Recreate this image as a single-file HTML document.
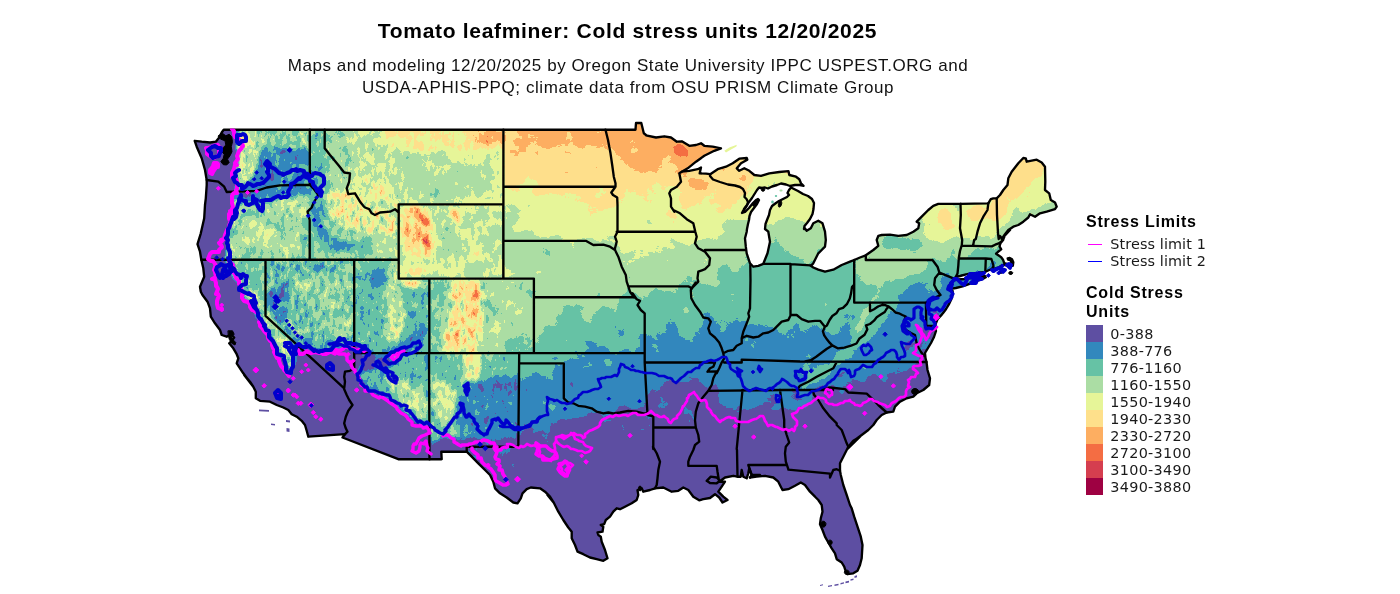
<!DOCTYPE html>
<html lang="en"><head><meta charset="utf-8"><title>Tomato leafminer: Cold stress units 12/20/2025</title>
<style>
html,body{margin:0;padding:0;background:#fff}
body{width:1400px;height:594px;position:relative;overflow:hidden;font-family:"Liberation Sans",sans-serif;color:#000}
#map{position:absolute;left:0;top:0;width:1400px;height:594px}
.t{position:absolute;white-space:nowrap;line-height:1}
#title{left:0;width:1255px;text-align:center;top:20px;font-size:21px;font-weight:bold;letter-spacing:.69px}
.sub{left:0;width:1256px;text-align:center;font-size:17px;letter-spacing:.57px;color:#111}
.lt{font-size:16px;font-weight:bold;letter-spacing:.79px;left:1086px}
.ll{font-family:"DejaVu Sans","Liberation Sans",sans-serif;font-size:14.4px;letter-spacing:.3px;left:1110.3px;color:#1a1a1a}
.sw{position:absolute;left:1086px;width:17px;height:17px}
.key{position:absolute;left:1088px;width:13.5px;height:1px}
</style></head><body>

<svg id="map" width="1400" height="594" viewBox="0 0 1400 594">
<defs>
<clipPath id="us"><path d="M223.7,129.7 635.5,129.7 636.0,123.0 641.3,123.0 643.8,133.3 646.0,135.0 646.0,135.3 656.0,137.5 664.3,136.3 671.0,137.5 676.8,141.7 681.8,141.3 689.3,145.8 696.0,145.0 701.0,143.3 704.3,145.8 712.7,146.7 721.0,148.3 714.3,150.8 704.3,155.8 696.0,161.7 687.7,168.3 681.8,171.7 689.3,170.8 697.7,169.2 701.0,167.5 699.7,173.3 706.0,173.7 710.2,174.2 717.7,169.2 726.0,166.7 732.7,163.3 739.3,158.7 746.8,158.0 747.3,159.7 741.0,163.3 736.8,168.3 739.3,170.8 744.3,168.3 749.3,170.8 754.3,175.0 761.0,175.8 769.3,173.3 779.3,172.0 788.5,171.2 789.3,175.0 796.0,176.7 799.3,179.2 801.0,183.3 803.5,185.8 800.0,185.0 795.0,185.0 790.0,186.0 786.0,184.5 781.0,183.5 777.0,185.0 772.0,186.5 768.0,188.5 765.0,187.5 762.0,188.0 759.0,187.5 757.0,190.0 754.5,194.0 752.0,198.0 749.0,202.0 746.0,207.0 743.0,211.0 742.0,213.0 745.0,212.0 749.0,208.0 753.0,203.0 756.0,200.0 758.0,199.0 759.0,200.0 757.0,204.0 754.0,208.0 751.0,212.0 749.5,216.0 749.0,220.0 748.0,224.0 747.0,229.0 746.7,231.7 745.0,238.3 745.8,246.7 746.7,253.3 750.0,263.3 753.3,266.7 758.3,265.8 763.3,263.8 767.5,253.3 770.0,241.7 768.3,231.7 765.0,229.0 765.5,224.0 767.0,220.0 769.0,215.0 770.0,210.0 772.0,206.0 776.0,203.0 779.0,201.0 783.0,199.0 787.0,197.0 789.0,195.0 787.5,193.0 789.0,190.0 791.0,187.5 794.0,189.0 798.0,191.0 803.0,194.0 808.0,196.0 812.0,199.0 814.0,203.0 813.5,209.0 812.5,214.0 810.0,219.0 807.0,223.0 804.5,226.0 804.0,229.0 804.2,227.5 806.7,230.8 810.8,228.3 813.3,223.3 818.3,220.8 822.5,223.3 825.0,231.7 825.8,240.0 825.0,246.7 821.7,250.0 818.3,253.3 815.8,258.3 813.3,263.3 810.8,265.8 813.3,267.5 818.3,269.7 825.0,271.7 833.3,269.7 841.7,265.0 850.0,261.7 854.2,260.0 860.0,257.5 865.8,255.3 873.3,250.0 878.3,245.8 876.7,240.0 878.3,235.8 881.7,235.0 890.0,234.7 898.3,235.8 906.7,235.0 913.3,231.7 918.3,228.3 919.2,223.3 916.7,221.7 921.7,216.7 928.3,210.0 933.3,205.8 938.3,203.8 960.5,203.8 988.3,203.3 990.8,199.2 993.3,198.3 996.7,198.3 1000.0,195.0 1003.3,190.0 1007.5,185.0 1008.3,178.3 1011.7,171.7 1018.3,163.3 1023.3,158.0 1025.8,158.3 1026.7,161.7 1036.7,159.7 1041.7,162.5 1045.0,166.7 1045.3,181.7 1045.0,190.0 1049.2,193.3 1050.8,200.0 1055.0,202.5 1056.7,206.7 1055.0,209.2 1046.7,211.7 1040.0,213.3 1035.0,216.7 1030.0,214.2 1028.3,217.5 1023.3,221.7 1018.3,225.0 1013.3,226.7 1008.3,230.0 1005.0,234.2 1001.7,239.0 1010.0,230.0 1005.0,235.0 1003.0,240.0 1000.4,243.4 999.5,246.4 1001.2,249.4 997.8,252.0 996.1,253.7 998.7,255.5 1001.2,257.2 1003.0,259.7 1004.2,263.2 1007.2,264.0 1010.7,264.9 1012.8,265.8 1013.3,262.3 1012.0,259.3 1009.8,258.0 1007.7,258.5 1008.1,259.7 1010.3,260.2 1011.5,262.3 1010.7,264.0 1007.0,265.5 1003.8,264.9 1001.2,265.8 998.7,267.5 995.2,268.3 991.8,269.2 989.2,270.0 985.0,271.8 978.0,273.0 971.2,273.5 966.0,274.3 960.0,276.0 955.8,277.0 953.0,280.0 954.0,278.6 952.5,282.0 951.0,285.0 952.0,288.0 953.0,293.6 951.2,299.6 948.7,304.7 946.1,309.0 943.5,312.5 941.8,314.6 937.5,319.3 935.8,323.6 935.0,327.0 936.0,331.0 934.0,337.0 931.0,343.0 928.0,348.0 925.0,353.0 925.5,358.0 926.5,362.0 927.5,370.0 930.0,378.3 929.2,385.0 923.3,390.0 916.7,393.3 913.3,396.7 906.7,398.3 900.0,401.7 895.0,406.7 893.3,411.7 886.7,412.5 881.7,415.0 876.7,420.0 873.3,425.0 868.3,430.0 861.7,435.0 855.0,440.0 850.0,445.0 847.5,449.0 860.0,436.7 853.3,440.8 848.3,446.7 846.7,450.0 843.3,456.7 840.0,463.3 840.0,470.8 840.8,475.0 843.3,485.0 846.7,495.0 850.0,505.0 851.7,508.3 854.2,516.7 857.5,526.7 860.8,536.7 862.5,545.0 861.7,558.3 860.0,565.0 857.5,570.8 853.3,573.3 847.5,574.2 845.8,571.7 844.2,566.7 841.7,562.5 836.7,559.2 835.0,553.3 831.7,548.3 828.3,542.5 825.0,536.7 822.5,530.0 820.0,524.2 820.8,518.3 822.5,511.7 821.7,505.0 818.3,500.0 813.3,495.0 815.0,496.7 810.0,491.7 805.0,485.0 800.8,482.5 795.0,485.8 788.3,489.2 782.5,490.0 780.8,486.7 778.3,481.7 773.3,477.5 765.0,475.8 756.7,476.7 750.0,477.5 760.0,475.0 751.7,475.0 749.2,468.3 748.3,473.3 746.7,478.3 743.3,476.7 741.7,470.0 740.8,476.7 737.5,476.7 733.3,475.8 725.0,477.5 719.2,481.7 725.0,481.7 721.7,486.7 718.3,491.7 723.3,496.7 727.5,500.0 722.5,502.5 719.2,497.5 715.0,494.2 710.0,498.0 703.3,499.2 699.2,500.3 693.3,496.7 688.3,490.0 683.3,487.5 678.3,490.8 671.7,491.7 663.3,487.5 655.0,488.3 650.0,490.0 643.3,491.7 641.7,488.3 637.5,490.0 638.3,495.0 636.7,500.0 631.7,503.3 625.0,506.7 620.0,509.2 616.7,508.3 613.3,511.7 610.0,516.7 605.8,520.0 604.2,524.2 600.8,525.0 603.3,526.7 602.5,531.7 597.5,532.5 598.3,535.0 600.8,536.7 601.7,541.7 605.0,550.0 607.5,558.3 603.3,560.8 596.7,559.2 590.0,557.5 583.3,554.2 577.5,551.7 575.0,545.0 571.7,538.3 571.7,531.7 568.3,527.5 563.3,520.0 558.3,511.7 553.3,501.7 547.5,495.0 554.2,503.3 550.0,496.7 545.0,491.7 540.0,488.3 530.8,487.5 526.7,489.2 522.5,493.3 520.8,498.3 517.5,503.3 513.3,502.5 506.7,497.5 500.0,493.3 495.0,488.3 493.3,481.7 490.0,475.0 485.0,470.0 478.3,463.3 471.7,456.7 466.7,451.7 441.3,451.7 441.7,459.2 430.0,459.2 398.3,459.2 342.5,437.5 345.0,434.2 308.3,436.7 306.7,430.8 305.0,425.0 301.7,420.8 296.7,416.7 291.7,414.2 288.3,410.0 283.3,407.5 276.7,405.0 270.0,401.7 260.0,400.8 255.8,398.3 255.8,391.7 253.3,386.7 250.0,381.7 244.2,375.0 253.3,386.7 248.3,380.0 243.3,373.3 240.0,368.3 236.7,363.3 238.3,358.3 236.7,354.2 233.3,348.3 229.2,343.3 231.7,340.8 234.2,337.5 230.8,334.2 226.7,336.7 221.7,335.0 220.0,330.0 215.0,323.3 210.8,316.7 210.0,308.3 207.5,301.7 202.5,295.0 200.8,291.7 200.0,286.7 204.2,276.7 203.3,268.3 201.3,259.7 200.0,251.7 197.5,244.2 200.8,233.3 204.2,218.3 205.0,205.0 205.8,198.3 206.7,185.0 206.7,180.0 205.0,170.0 201.7,158.3 196.7,146.7 194.7,140.8 201.7,141.7 210.0,142.5 215.8,141.7 219.2,137.5 221.7,132.5 223.7,129.7Z M953.2,280.3 958.3,279.5 964.3,279.0 971.2,278.2 978.0,277.0 984.9,276.0 985.8,277.3 983.2,278.6 976.4,281.2 969.5,283.8 962.6,286.3 955.8,288.0 950.6,288.9 949.7,284.6Z"/></clipPath>
<filter id="f" x="0" y="0" width="1400" height="594" filterUnits="userSpaceOnUse" color-interpolation-filters="sRGB">
<feColorMatrix in="SourceGraphic" type="matrix" values="1 0 0 0 0 1 0 0 0 0 1 0 0 0 0 0 0 0 0 1" result="v"/>
<feColorMatrix in="SourceGraphic" type="matrix" values="0 1 0 0 0 0 1 0 0 0 0 1 0 0 0 0 0 0 0 1" result="a1"/>
<feColorMatrix in="SourceGraphic" type="matrix" values="0 0 1 0 0 0 0 1 0 0 0 0 1 0 0 0 0 0 0 1" result="a2"/>
<feTurbulence type="fractalNoise" baseFrequency="0.05" numOctaves="5" seed="7" result="n1"/>
<feColorMatrix in="n1" type="matrix" values="1 0 0 0 0 1 0 0 0 0 1 0 0 0 0 0 0 0 0 1" result="g1"/>
<feTurbulence type="fractalNoise" baseFrequency="0.2 0.11" numOctaves="3" seed="5" result="n2"/>
<feColorMatrix in="n2" type="matrix" values="1 0 0 0 0 1 0 0 0 0 1 0 0 0 0 0 0 0 0 1" result="g2"/>
<feComposite in="a1" in2="g1" operator="arithmetic" k1="1" k2="0" k3="0" k4="0" result="t1"/>
<feComposite in="a2" in2="g2" operator="arithmetic" k1="1" k2="0" k3="0" k4="0" result="t2"/>
<feComposite in="v" in2="a1" operator="arithmetic" k1="0" k2="1" k3="-0.25" k4="0" result="v1"/>
<feComposite in="v1" in2="a2" operator="arithmetic" k1="0" k2="1" k3="-0.25" k4="0" result="v2"/>
<feComposite in="v2" in2="t1" operator="arithmetic" k1="0" k2="1" k3="0.5" k4="0" result="v3"/>
<feComposite in="v3" in2="t2" operator="arithmetic" k1="0" k2="1" k3="0.5" k4="0" result="v4"/>
<feComponentTransfer in="v4"><feFuncR type="discrete" tableValues="0.3686 0.3686 0.3686 0.3686 0.3686 0.1961 0.4000 0.6706 0.9020 0.9961 0.9922 0.9569 0.8353 0.6196 0.6196 0.6196"/><feFuncG type="discrete" tableValues="0.3098 0.3098 0.3098 0.3098 0.3098 0.5333 0.7608 0.8667 0.9608 0.8784 0.6824 0.4275 0.2431 0.0039 0.0039 0.0039"/><feFuncB type="discrete" tableValues="0.6353 0.6353 0.6353 0.6353 0.6353 0.7412 0.6471 0.6431 0.5961 0.5451 0.3804 0.2627 0.3098 0.2588 0.2588 0.2588"/></feComponentTransfer>
</filter>
<filter id="be" x="0" y="0" width="1400" height="594" filterUnits="userSpaceOnUse" color-interpolation-filters="sRGB"><feGaussianBlur stdDeviation="10"/></filter>
<filter id="bw" x="0" y="0" width="1400" height="594" filterUnits="userSpaceOnUse" color-interpolation-filters="sRGB"><feGaussianBlur stdDeviation="2"/></filter>
<filter id="bm" x="0" y="0" width="1400" height="594" filterUnits="userSpaceOnUse" color-interpolation-filters="sRGB"><feGaussianBlur stdDeviation="3.2"/></filter>
</defs>
<g clip-path="url(#us)"><g filter="url(#f)">
<g filter="url(#be)"><path fill="#733800" d="M0.0,0.0 1400.0,0.0 1400.0,600.0 0.0,600.0Z"/>
<path fill="#a73800" d="M440.0,100.0 1100.0,100.0 1100.0,620.0 440.0,620.0Z"/>
<path fill="#973800" d="M440.0,140.0 495.0,140.0 505.0,142.0 520.0,145.0 537.0,144.0 550.0,145.0 562.0,154.0 572.0,151.0 585.0,145.0 595.0,141.0 605.0,144.0 612.0,147.0 620.0,157.0 627.0,165.0 635.0,170.0 645.0,169.0 652.0,165.0 660.0,166.0 670.0,170.0 680.0,169.0 686.0,173.0 700.0,172.0 730.0,160.0 760.0,150.0 800.0,120.0 1075.0,100.0 1100.0,100.0 1100.0,620.0 440.0,620.0Z"/>
<path fill="#873800" d="M440.0,176.0 495.0,176.0 505.0,182.0 515.0,186.0 530.0,190.0 550.0,192.0 565.0,195.0 582.0,202.0 600.0,207.0 612.0,206.0 620.0,197.0 637.0,199.0 650.0,195.0 662.0,192.0 670.0,195.0 675.0,202.0 690.0,205.0 705.0,207.0 720.0,206.0 730.0,202.0 740.0,197.0 746.0,195.0 755.0,190.0 757.0,180.0 760.0,170.0 780.0,140.0 1075.0,110.0 1100.0,110.0 1100.0,620.0 440.0,620.0Z"/>
<path fill="#783800" d="M440.0,215.0 495.0,215.0 500.0,217.0 530.0,225.0 545.0,232.0 575.0,236.0 590.0,240.0 615.0,243.0 617.0,257.0 630.0,256.0 645.0,255.0 660.0,252.0 675.0,245.0 690.0,244.0 700.0,240.0 712.0,237.0 725.0,233.0 732.0,220.0 740.0,215.0 746.0,217.0 760.0,218.0 770.0,222.0 777.0,225.0 787.0,223.0 800.0,221.0 808.0,224.0 815.0,226.0 830.0,230.0 860.0,235.0 900.0,200.0 1075.0,120.0 1100.0,120.0 1100.0,620.0 440.0,620.0Z"/>
<path fill="#683800" d="M440.0,356.0 495.0,356.0 500.0,356.0 517.0,354.0 534.0,345.0 542.0,335.0 550.0,317.0 557.0,310.0 572.0,309.0 585.0,304.0 600.0,300.0 615.0,299.0 630.0,297.0 640.0,290.0 655.0,287.0 675.0,287.0 690.0,286.0 700.0,284.0 712.0,277.0 725.0,275.0 737.0,272.0 747.0,267.0 752.0,258.0 760.0,250.0 765.0,235.0 775.0,232.0 782.0,245.0 787.0,255.0 795.0,257.0 805.0,260.0 812.0,257.0 820.0,250.0 825.0,242.0 835.0,240.0 856.0,258.0 900.0,262.0 935.0,262.0 950.0,268.0 965.0,262.0 985.0,255.0 1005.0,248.0 1020.0,240.0 1075.0,220.0 1100.0,220.0 1100.0,620.0 440.0,620.0Z"/>
<path fill="#583800" d="M440.0,380.0 495.0,380.0 500.0,380.0 510.0,385.0 520.0,377.0 532.0,370.0 550.0,365.0 565.0,360.0 575.0,356.0 585.0,355.0 600.0,350.0 617.0,344.0 630.0,340.0 642.0,340.0 650.0,335.0 662.0,332.0 675.0,330.0 685.0,335.0 697.0,332.0 705.0,321.0 717.0,319.0 730.0,319.0 740.0,322.0 750.0,321.0 760.0,325.0 770.0,330.0 780.0,332.0 790.0,335.0 800.0,332.0 810.0,328.0 820.0,330.0 830.0,325.0 850.0,320.0 880.0,305.0 905.0,295.0 925.0,285.0 945.0,275.0 965.0,268.0 990.0,262.0 1020.0,255.0 1075.0,240.0 1100.0,240.0 1100.0,620.0 440.0,620.0Z"/>
<path fill="#483800" d="M440.0,440.0 460.0,440.0 480.0,432.0 495.0,427.0 500.0,427.0 525.0,430.0 550.0,422.0 575.0,415.0 600.0,411.0 625.0,412.0 645.0,410.0 650.0,400.0 662.0,395.0 675.0,387.0 690.0,380.0 705.0,377.0 712.0,385.0 715.0,400.0 725.0,407.0 737.0,410.0 750.0,407.0 762.0,405.0 772.0,412.0 782.0,407.0 790.0,402.0 800.0,398.0 810.0,395.0 825.0,387.0 842.0,387.0 855.0,382.0 867.0,380.0 880.0,375.0 892.0,372.0 905.0,370.0 915.0,365.0 920.0,355.0 923.0,345.0 927.0,337.0 932.0,330.0 940.0,325.0 1075.0,300.0 1100.0,300.0 1100.0,620.0 440.0,620.0Z"/>
<path fill="#283800" d="M440.0,470.0 460.0,470.0 520.0,465.0 600.0,450.0 700.0,440.0 800.0,435.0 900.0,410.0 1075.0,380.0 1100.0,380.0 1100.0,620.0 440.0,620.0Z"/></g>
<g filter="url(#bm)"><ellipse fill="#a63800" cx="701" cy="184" rx="12" ry="5"/>
<ellipse fill="#a63800" cx="741" cy="176" rx="7" ry="5"/>
<ellipse fill="#b63800" cx="680" cy="151" rx="5" ry="8" transform="rotate(20 680 151)"/>
<path fill="#873800" d="M922.0,205.0 945.0,204.0 959.0,206.0 959.0,235.0 950.0,242.0 935.0,242.0 925.0,232.0 920.0,218.0Z"/>
<ellipse fill="#963800" cx="944.5" cy="222" rx="9" ry="12"/>
<ellipse fill="#683800" cx="903" cy="244" rx="24" ry="6"/>
<ellipse fill="#683800" cx="952" cy="262" rx="4" ry="14"/>
<path fill="#783800" d="M857.0,260.0 930.0,260.0 932.0,268.0 915.0,274.0 895.0,280.0 880.0,286.0 865.0,284.0 857.0,276.0Z"/>
<ellipse fill="#583800" cx="918" cy="296" rx="14" ry="6"/>
<path fill="#873800" d="M960.0,204.0 998.0,204.0 998.0,236.0 960.0,236.0Z"/>
<ellipse fill="#943800" cx="976" cy="213" rx="10" ry="9"/>
<ellipse fill="#993800" cx="993" cy="214" rx="3" ry="12"/>
<path fill="#873800" d="M997.0,240.0 1004.0,226.0 1014.0,216.0 1024.0,212.0 1036.0,208.0 1048.0,203.0 1058.0,199.0 1058.0,150.0 990.0,150.0 990.0,240.0Z"/>
<path fill="#963800" d="M996.7,224.7 1004.2,214.8 1016.7,199.8 1029.0,187.4 1039.0,175.0 1044.0,160.0 1044.0,150.0 990.0,150.0 990.0,224.0Z"/>
<path fill="#683800" d="M1004.0,240.0 1016.7,227.0 1029.0,222.0 1041.6,218.0 1056.0,211.0 1070.0,205.0 1070.0,245.0 1000.0,250.0Z"/>
<path fill="#693800" d="M855.0,322.0 880.0,305.0 893.0,300.0 896.0,308.0 888.0,318.0 878.0,328.0 870.0,338.0 862.0,346.0 852.0,355.0 842.0,364.0 830.0,373.0 818.0,382.0 806.0,390.0 798.0,393.0 796.0,388.0 806.0,380.0 818.0,370.0 830.0,360.0 842.0,350.0 850.0,342.0 855.0,332.0Z"/>
<path fill="#583800" d="M780.0,362.0 800.0,362.0 815.0,358.0 828.0,350.0 836.0,342.0 840.0,336.0 830.0,332.0 815.0,336.0 800.0,340.0 780.0,345.0Z"/>
<path fill="#7e3800" d="M879.0,288.0 883.0,288.0 870.0,312.0 856.0,334.0 851.0,336.0 862.0,314.0Z"/></g>
<g filter="url(#bw)"><path fill="#732954" d="M150.0,100.0 503.4,100.0 503.4,278.6 533.9,278.6 533.9,353.1 519.2,353.1 519.2,446.7 440.0,446.7 440.0,600.0 150.0,600.0Z"/>
<path fill="#7e2954" d="M325.0,128.0 505.0,128.0 505.0,206.0 400.0,206.0 385.0,212.0 370.0,212.0 355.0,195.0 345.0,188.0 348.0,172.0 330.0,155.0Z"/>
<path fill="#8f3340" d="M382.0,128.0 505.0,128.0 505.0,152.0 470.0,155.0 440.0,150.0 410.0,152.0 390.0,148.0Z"/>
<path fill="#a33340" d="M466.0,128.0 505.0,128.0 505.0,143.0 485.0,145.0 470.0,140.0Z"/>
<path fill="#83381f" d="M445.0,150.0 505.0,150.0 505.0,206.0 470.0,206.0 452.0,200.0 445.0,180.0Z"/>
<path fill="#784026" d="M395.0,156.0 422.0,152.0 440.0,156.0 465.0,167.0 483.0,177.0 485.0,195.0 452.0,199.0 415.0,197.0 402.0,190.0 395.0,177.0Z"/>
<path fill="#712954" d="M325.0,132.0 345.0,132.0 355.0,165.0 345.0,170.0 335.0,158.0Z"/>
<path fill="#872999" d="M352.0,178.0 380.0,180.0 398.0,198.0 398.0,210.0 370.0,210.0 358.0,198.0Z"/>
<path fill="#7e3833" d="M399.0,205.0 503.0,205.0 503.0,278.0 399.0,278.0Z"/>
<path fill="#992980" d="M401.0,207.0 424.0,205.0 431.0,215.0 435.0,240.0 432.0,256.0 420.0,260.0 407.0,254.0 402.0,240.0Z"/>
<ellipse fill="#c42980" cx="421" cy="217" rx="2.2" ry="11" transform="rotate(-38 421 217)"/>
<ellipse fill="#c42980" cx="425" cy="241" rx="2.2" ry="11" transform="rotate(-40 425 241)"/>
<ellipse fill="#b92980" cx="456" cy="216" rx="2.2" ry="7" transform="rotate(-30 456 216)"/>
<ellipse fill="#762954" cx="443" cy="228" rx="7" ry="14"/>
<ellipse fill="#7b3333" cx="480" cy="225" rx="16" ry="14"/>
<ellipse fill="#932954" cx="476" cy="256" rx="5" ry="5"/>
<ellipse fill="#962999" cx="415" cy="272" rx="12" ry="4"/>
<path fill="#682954" d="M310.0,128.0 325.0,128.0 325.0,148.0 335.0,160.0 340.0,172.0 336.0,188.0 325.0,192.0 310.0,190.0Z"/>
<path fill="#792954" d="M325.0,150.0 345.0,170.0 348.0,190.0 335.0,192.0 328.0,175.0Z"/>
<path fill="#8729bf" d="M325.0,192.0 345.0,190.0 355.0,194.0 362.0,205.0 385.0,212.0 398.0,212.0 398.0,235.0 380.0,235.0 360.0,232.0 342.0,228.0 330.0,215.0Z"/>
<path fill="#642954" d="M310.0,190.0 322.0,190.0 328.0,215.0 322.0,225.0 310.0,225.0Z"/>
<path fill="#662940" d="M310.0,205.0 318.0,205.0 322.0,225.0 332.0,238.0 350.0,243.0 368.0,240.0 385.0,237.0 398.0,238.0 398.0,248.0 380.0,252.0 355.0,254.0 335.0,252.0 318.0,242.0 310.0,225.0Z"/>
<path fill="#582940" d="M310.0,206.0 317.0,206.0 321.0,222.0 330.0,235.0 345.0,241.0 362.0,244.0 345.0,250.0 330.0,248.0 318.0,240.0 310.0,225.0Z"/>
<ellipse fill="#562954" cx="314" cy="184" rx="5" ry="5"/>
<path fill="#7c2954" d="M370.0,240.0 398.0,236.0 398.0,260.0 375.0,260.0Z"/>
<path fill="#802999" d="M237.0,128.0 256.0,128.0 258.0,150.0 254.0,175.0 250.0,185.0 240.0,185.0 238.0,170.0 239.0,150.0Z"/>
<path fill="#742980" d="M233.0,196.0 246.0,198.0 247.0,230.0 243.0,262.0 226.0,262.0 230.0,240.0 232.0,215.0Z"/>
<path fill="#712980" d="M256.0,128.0 310.0,128.0 310.0,148.0 290.0,146.0 270.0,144.0 256.0,148.0Z"/>
<path fill="#58294c" d="M258.0,152.0 270.0,146.0 290.0,148.0 310.0,150.0 310.0,180.0 300.0,185.0 285.0,187.0 270.0,190.0 256.0,193.0 246.0,190.0 244.0,184.0 252.0,176.0 257.0,165.0Z"/>
<path fill="#59294c" d="M238.0,187.0 300.0,184.0 310.0,186.0 312.0,196.0 285.0,199.0 262.0,204.0 240.0,205.0 236.0,196.0Z"/>
<path fill="#7c2980" d="M278.0,198.0 308.0,196.0 310.0,218.0 295.0,222.0 280.0,214.0Z"/>
<ellipse fill="#7e4c4c" cx="258" cy="235" rx="17" ry="14"/>
<ellipse fill="#784c4c" cx="290" cy="240" rx="14" ry="12"/>
<path fill="#662954" d="M302.0,218.0 311.0,215.0 311.0,248.0 302.0,248.0Z"/>
<path fill="#281a1a" d="M180.0,120.0 234.0,120.0 236.0,150.0 235.0,170.0 234.0,190.0 231.0,210.0 229.0,230.0 225.0,250.0 224.0,262.0 180.0,262.0Z"/>
<ellipse fill="#5c2954" cx="211" cy="147" rx="4" ry="4"/>
<path fill="#692954" d="M224.0,258.0 266.0,258.0 266.0,316.0 250.0,300.0 240.0,280.0 230.0,270.0Z"/>
<path fill="#682999" d="M266.0,258.0 355.0,258.0 355.0,352.0 330.0,355.0 300.0,352.0 292.0,345.0 266.0,316.0Z"/>
<ellipse fill="#582980" cx="279" cy="303" rx="10" ry="20"/>
<path fill="#702980" d="M295.0,275.0 354.0,270.0 354.0,335.0 335.0,340.0 315.0,330.0 300.0,310.0Z"/>
<path fill="#5c294c" d="M292.0,338.0 310.0,338.0 335.0,342.0 355.0,338.0 355.0,352.0 300.0,352.0Z"/>
<path fill="#742999" d="M240.0,275.0 252.0,280.0 262.0,300.0 272.0,318.0 284.0,335.0 293.0,350.0 296.0,368.0 288.0,366.0 280.0,350.0 268.0,335.0 258.0,318.0 248.0,300.0 240.0,285.0Z"/>
<ellipse fill="#8f29b2" cx="286" cy="351" rx="2.5" ry="13" transform="rotate(-25 286 351)"/>
<path fill="#281a1a" d="M180.0,262.0 224.0,262.0 228.0,272.0 236.0,283.0 244.0,298.0 254.0,315.0 264.0,330.0 274.0,345.0 282.0,360.0 290.0,372.0 298.0,362.0 296.0,352.0 305.0,352.0 320.0,352.0 335.0,352.0 345.0,348.0 356.0,345.0 356.0,375.0 365.0,384.0 374.0,395.0 387.0,399.0 396.0,406.0 404.0,414.0 415.0,423.0 426.0,425.0 431.0,436.0 431.0,470.0 180.0,470.0Z"/>
<path fill="#662954" d="M355.0,260.0 399.0,260.0 399.0,279.0 429.0,279.0 429.0,353.0 355.0,353.0Z"/>
<ellipse fill="#542940" cx="378" cy="278" rx="8" ry="10"/>
<ellipse fill="#a72999" cx="411" cy="283.5" rx="11" ry="3"/>
<path fill="#7b2999" d="M390.0,262.0 399.0,262.0 402.0,290.0 406.0,320.0 400.0,340.0 386.0,342.0 386.0,320.0 388.0,290.0Z"/>
<path fill="#54294c" d="M426.0,320.0 429.0,330.0 420.0,342.0 405.0,352.0 385.0,356.0 385.0,350.0 400.0,345.0 415.0,332.0Z"/>
<path fill="#452933" d="M356.0,343.0 368.0,345.0 372.0,353.0 356.0,353.0Z"/>
<path fill="#6e2954" d="M429.0,279.0 455.0,279.0 450.0,352.0 429.0,352.0Z"/>
<path fill="#9129b2" d="M455.0,279.0 478.0,279.0 484.0,300.0 482.0,330.0 476.0,352.0 445.0,352.0 444.0,335.0 452.0,310.0 450.0,295.0Z"/>
<ellipse fill="#a92999" cx="473" cy="308" rx="2.5" ry="26" transform="rotate(5 473 308)"/>
<ellipse fill="#9f2999" cx="452" cy="338" rx="8" ry="7"/>
<path fill="#794033" d="M487.0,279.0 534.0,279.0 534.0,353.0 486.0,353.0 490.0,320.0Z"/>
<path fill="#6b4033" d="M505.0,338.0 534.0,335.0 534.0,353.0 505.0,353.0Z"/>
<path fill="#642954" d="M356.0,353.0 429.0,353.0 429.0,425.0 415.0,423.0 404.0,414.0 396.0,406.0 387.0,399.0 374.0,395.0 365.0,384.0 356.0,375.0Z"/>
<path fill="#7c2980" d="M385.0,378.0 400.0,376.0 415.0,385.0 428.0,395.0 428.0,418.0 418.0,418.0 405.0,405.0 392.0,392.0Z"/>
<path fill="#49294c" d="M356.0,353.0 372.0,353.0 385.0,358.0 398.0,362.0 392.0,368.0 378.0,368.0 365.0,370.0 356.0,368.0Z"/>
<path fill="#682954" d="M429.0,353.0 519.0,353.0 519.0,447.0 429.0,460.0Z"/>
<path fill="#802980" d="M433.0,382.0 448.0,380.0 456.0,392.0 455.0,412.0 448.0,422.0 438.0,420.0 433.0,405.0Z"/>
<path fill="#862980" d="M462.0,353.0 482.0,353.0 482.0,372.0 475.0,382.0 465.0,378.0Z"/>
<path fill="#584040" d="M459.0,394.0 478.0,380.0 519.0,372.0 519.0,440.0 470.0,440.0 459.0,432.0 457.0,415.0Z"/>
<path fill="#464040" d="M429.0,440.0 470.0,438.0 500.0,440.0 520.0,436.0 520.0,470.0 429.0,470.0Z"/></g>
</g></g>
<path fill="#E6F598" d="M724.3,150.8 729.3,147.5 736.8,144.7 736.4,146.6 730.2,149.9 726.0,152.6Z"/>
<path fill="#5E4FA2" d="M820.0,585.0 823.0,584.2 823.0,585.2 820.0,586.0Z"/>
<path fill="#5E4FA2" d="M828.0,585.8 832.0,585.0 832.0,586.2 828.0,587.0Z"/>
<path fill="#5E4FA2" d="M834.5,584.6 838.5,583.8 838.5,585.2 834.5,586.0Z"/>
<path fill="#5E4FA2" d="M840.5,583.0 844.0,582.2 844.0,583.6 840.5,584.4Z"/>
<path fill="#5E4FA2" d="M845.5,581.6 849.0,580.8 849.0,582.4 845.5,583.2Z"/>
<path fill="#5E4FA2" d="M850.5,579.2 853.5,578.4 853.5,580.0 850.5,580.8Z"/>
<path fill="#5E4FA2" d="M854.5,576.0 857.0,575.2 857.0,577.2 854.5,578.0Z"/>
<path fill="#5E4FA2" d="M259.0,409.5 269.0,410.0 269.0,411.7 259.0,411.2Z"/>
<path fill="#5E4FA2" d="M271.0,423.5 275.0,424.0 275.0,425.5 271.0,425.0Z"/>
<path fill="#5E4FA2" d="M286.0,420.0 290.0,420.5 290.0,422.5 286.0,422.0Z"/>
<path fill="#5E4FA2" d="M286.5,428.0 289.5,428.5 289.5,432.0 286.5,431.5Z"/>
<path fill="#ABDDA4" d="M782.6,190.5 782.3,191.2 781.5,191.6 780.5,191.6 779.7,191.2 779.4,190.5 779.7,189.8 780.5,189.4 781.5,189.4 782.3,189.8Z"/>
<path fill="#66C2A5" d="M777.2,196.0 777.0,196.6 776.4,197.0 775.6,197.0 775.0,196.6 774.8,196.0 775.0,195.4 775.6,195.0 776.4,195.0 777.0,195.4Z"/>
<path fill="#66C2A5" d="M773.8,202.0 773.6,202.9 772.9,203.5 772.1,203.5 771.4,202.9 771.2,202.0 771.4,201.1 772.1,200.5 772.9,200.5 773.6,201.1Z"/>
<g fill="none" stroke="#000" stroke-width="2.35" stroke-linejoin="round" stroke-linecap="round">
<path d="M223.7,129.7 635.5,129.7 636.0,123.0 641.3,123.0 643.8,133.3 646.0,135.0 646.0,135.3 656.0,137.5 664.3,136.3 671.0,137.5 676.8,141.7 681.8,141.3 689.3,145.8 696.0,145.0 701.0,143.3 704.3,145.8 712.7,146.7 721.0,148.3 714.3,150.8 704.3,155.8 696.0,161.7 687.7,168.3 681.8,171.7 689.3,170.8 697.7,169.2 701.0,167.5 699.7,173.3 706.0,173.7 710.2,174.2 717.7,169.2 726.0,166.7 732.7,163.3 739.3,158.7 746.8,158.0 747.3,159.7 741.0,163.3 736.8,168.3 739.3,170.8 744.3,168.3 749.3,170.8 754.3,175.0 761.0,175.8 769.3,173.3 779.3,172.0 788.5,171.2 789.3,175.0 796.0,176.7 799.3,179.2 801.0,183.3 803.5,185.8 800.0,185.0 795.0,185.0 790.0,186.0 786.0,184.5 781.0,183.5 777.0,185.0 772.0,186.5 768.0,188.5 765.0,187.5 762.0,188.0 759.0,187.5 757.0,190.0 754.5,194.0 752.0,198.0 749.0,202.0 746.0,207.0 743.0,211.0 742.0,213.0 745.0,212.0 749.0,208.0 753.0,203.0 756.0,200.0 758.0,199.0 759.0,200.0 757.0,204.0 754.0,208.0 751.0,212.0 749.5,216.0 749.0,220.0 748.0,224.0 747.0,229.0 746.7,231.7 745.0,238.3 745.8,246.7 746.7,253.3 750.0,263.3 753.3,266.7 758.3,265.8 763.3,263.8 767.5,253.3 770.0,241.7 768.3,231.7 765.0,229.0 765.5,224.0 767.0,220.0 769.0,215.0 770.0,210.0 772.0,206.0 776.0,203.0 779.0,201.0 783.0,199.0 787.0,197.0 789.0,195.0 787.5,193.0 789.0,190.0 791.0,187.5 794.0,189.0 798.0,191.0 803.0,194.0 808.0,196.0 812.0,199.0 814.0,203.0 813.5,209.0 812.5,214.0 810.0,219.0 807.0,223.0 804.5,226.0 804.0,229.0 804.2,227.5 806.7,230.8 810.8,228.3 813.3,223.3 818.3,220.8 822.5,223.3 825.0,231.7 825.8,240.0 825.0,246.7 821.7,250.0 818.3,253.3 815.8,258.3 813.3,263.3 810.8,265.8 813.3,267.5 818.3,269.7 825.0,271.7 833.3,269.7 841.7,265.0 850.0,261.7 854.2,260.0 860.0,257.5 865.8,255.3 873.3,250.0 878.3,245.8 876.7,240.0 878.3,235.8 881.7,235.0 890.0,234.7 898.3,235.8 906.7,235.0 913.3,231.7 918.3,228.3 919.2,223.3 916.7,221.7 921.7,216.7 928.3,210.0 933.3,205.8 938.3,203.8 960.5,203.8 988.3,203.3 990.8,199.2 993.3,198.3 996.7,198.3 1000.0,195.0 1003.3,190.0 1007.5,185.0 1008.3,178.3 1011.7,171.7 1018.3,163.3 1023.3,158.0 1025.8,158.3 1026.7,161.7 1036.7,159.7 1041.7,162.5 1045.0,166.7 1045.3,181.7 1045.0,190.0 1049.2,193.3 1050.8,200.0 1055.0,202.5 1056.7,206.7 1055.0,209.2 1046.7,211.7 1040.0,213.3 1035.0,216.7 1030.0,214.2 1028.3,217.5 1023.3,221.7 1018.3,225.0 1013.3,226.7 1008.3,230.0 1005.0,234.2 1001.7,239.0 1010.0,230.0 1005.0,235.0 1003.0,240.0 1000.4,243.4 999.5,246.4 1001.2,249.4 997.8,252.0 996.1,253.7 998.7,255.5 1001.2,257.2 1003.0,259.7 1004.2,263.2 1007.2,264.0 1010.7,264.9 1012.8,265.8 1013.3,262.3 1012.0,259.3 1009.8,258.0 1007.7,258.5 1008.1,259.7 1010.3,260.2 1011.5,262.3 1010.7,264.0 1007.0,265.5 1003.8,264.9 1001.2,265.8 998.7,267.5 995.2,268.3 991.8,269.2 989.2,270.0 985.0,271.8 978.0,273.0 971.2,273.5 966.0,274.3 960.0,276.0 955.8,277.0 953.0,280.0 954.0,278.6 952.5,282.0 951.0,285.0 952.0,288.0 953.0,293.6 951.2,299.6 948.7,304.7 946.1,309.0 943.5,312.5 941.8,314.6 937.5,319.3 935.8,323.6 935.0,327.0 936.0,331.0 934.0,337.0 931.0,343.0 928.0,348.0 925.0,353.0 925.5,358.0 926.5,362.0 927.5,370.0 930.0,378.3 929.2,385.0 923.3,390.0 916.7,393.3 913.3,396.7 906.7,398.3 900.0,401.7 895.0,406.7 893.3,411.7 886.7,412.5 881.7,415.0 876.7,420.0 873.3,425.0 868.3,430.0 861.7,435.0 855.0,440.0 850.0,445.0 847.5,449.0 860.0,436.7 853.3,440.8 848.3,446.7 846.7,450.0 843.3,456.7 840.0,463.3 840.0,470.8 840.8,475.0 843.3,485.0 846.7,495.0 850.0,505.0 851.7,508.3 854.2,516.7 857.5,526.7 860.8,536.7 862.5,545.0 861.7,558.3 860.0,565.0 857.5,570.8 853.3,573.3 847.5,574.2 845.8,571.7 844.2,566.7 841.7,562.5 836.7,559.2 835.0,553.3 831.7,548.3 828.3,542.5 825.0,536.7 822.5,530.0 820.0,524.2 820.8,518.3 822.5,511.7 821.7,505.0 818.3,500.0 813.3,495.0 815.0,496.7 810.0,491.7 805.0,485.0 800.8,482.5 795.0,485.8 788.3,489.2 782.5,490.0 780.8,486.7 778.3,481.7 773.3,477.5 765.0,475.8 756.7,476.7 750.0,477.5 760.0,475.0 751.7,475.0 749.2,468.3 748.3,473.3 746.7,478.3 743.3,476.7 741.7,470.0 740.8,476.7 737.5,476.7 733.3,475.8 725.0,477.5 719.2,481.7 725.0,481.7 721.7,486.7 718.3,491.7 723.3,496.7 727.5,500.0 722.5,502.5 719.2,497.5 715.0,494.2 710.0,498.0 703.3,499.2 699.2,500.3 693.3,496.7 688.3,490.0 683.3,487.5 678.3,490.8 671.7,491.7 663.3,487.5 655.0,488.3 650.0,490.0 643.3,491.7 641.7,488.3 637.5,490.0 638.3,495.0 636.7,500.0 631.7,503.3 625.0,506.7 620.0,509.2 616.7,508.3 613.3,511.7 610.0,516.7 605.8,520.0 604.2,524.2 600.8,525.0 603.3,526.7 602.5,531.7 597.5,532.5 598.3,535.0 600.8,536.7 601.7,541.7 605.0,550.0 607.5,558.3 603.3,560.8 596.7,559.2 590.0,557.5 583.3,554.2 577.5,551.7 575.0,545.0 571.7,538.3 571.7,531.7 568.3,527.5 563.3,520.0 558.3,511.7 553.3,501.7 547.5,495.0 554.2,503.3 550.0,496.7 545.0,491.7 540.0,488.3 530.8,487.5 526.7,489.2 522.5,493.3 520.8,498.3 517.5,503.3 513.3,502.5 506.7,497.5 500.0,493.3 495.0,488.3 493.3,481.7 490.0,475.0 485.0,470.0 478.3,463.3 471.7,456.7 466.7,451.7 441.3,451.7 441.7,459.2 430.0,459.2 398.3,459.2 342.5,437.5 345.0,434.2 308.3,436.7 306.7,430.8 305.0,425.0 301.7,420.8 296.7,416.7 291.7,414.2 288.3,410.0 283.3,407.5 276.7,405.0 270.0,401.7 260.0,400.8 255.8,398.3 255.8,391.7 253.3,386.7 250.0,381.7 244.2,375.0 253.3,386.7 248.3,380.0 243.3,373.3 240.0,368.3 236.7,363.3 238.3,358.3 236.7,354.2 233.3,348.3 229.2,343.3 231.7,340.8 234.2,337.5 230.8,334.2 226.7,336.7 221.7,335.0 220.0,330.0 215.0,323.3 210.8,316.7 210.0,308.3 207.5,301.7 202.5,295.0 200.8,291.7 200.0,286.7 204.2,276.7 203.3,268.3 201.3,259.7 200.0,251.7 197.5,244.2 200.8,233.3 204.2,218.3 205.0,205.0 205.8,198.3 206.7,185.0 206.7,180.0 205.0,170.0 201.7,158.3 196.7,146.7 194.7,140.8 201.7,141.7 210.0,142.5 215.8,141.7 219.2,137.5 221.7,132.5 223.7,129.7Z M953.2,280.3 958.3,279.5 964.3,279.0 971.2,278.2 978.0,277.0 984.9,276.0 985.8,277.3 983.2,278.6 976.4,281.2 969.5,283.8 962.6,286.3 955.8,288.0 950.6,288.9 949.7,284.6Z"/>
<path d="M206.7,180.0 218.3,181.7 224.2,186.7 226.7,192.0 235.0,191.7 246.7,191.3 256.7,190.8 266.7,187.5 280.0,185.3 296.7,185.0 310.0,185.0 M309.8,129.7 309.8,185.0 M310.0,185.0 313.3,188.3 318.3,195.0 313.3,203.3 311.7,207.5 307.5,211.7 308.3,215.0 309.7,220.0 309.7,259.7 M324.7,129.7 324.7,148.3 330.0,155.0 338.3,165.0 344.2,172.5 350.0,173.3 349.2,181.7 346.7,188.3 348.3,194.2 355.0,193.3 360.0,201.7 363.3,205.8 365.0,207.5 369.2,209.2 371.7,213.3 375.0,215.0 380.0,212.5 390.0,211.7 395.0,209.2 398.7,212.5 M201.3,259.7 398.7,259.7 M265.5,259.7 265.5,315.8 344.2,388.3 M354.2,259.7 354.2,368.3 350.0,370.8 345.0,371.7 344.2,376.7 345.0,381.7 344.2,388.3 M344.2,389.2 346.7,395.0 349.2,400.0 352.5,405.0 348.3,410.8 345.8,416.7 344.2,423.3 345.8,428.3 347.5,431.7 345.0,434.2 M398.7,204.3 503.3,204.3 503.3,278.6 398.7,278.6 398.7,204.3 M398.7,278.6 398.7,259.7 M503.4,129.7 503.4,278.6 M354.2,353.1 644.5,353.1 M429.3,278.6 429.3,353.1 M429.0,353.1 429.5,459.2 M503.3,278.6 533.9,278.6 M533.9,278.6 533.9,353.1 M503.4,186.7 615.5,186.7 M503.4,240.9 585.8,240.8 593.3,245.0 603.3,244.7 610.0,246.7 615.0,250.0 M533.9,297.2 633.3,297.2 M605.5,129.7 608.0,140.0 610.5,153.3 612.2,165.0 613.8,176.7 615.5,183.3 615.5,186.7 611.3,192.5 613.0,195.0 617.2,197.5 617.5,205.0 617.5,231.7 615.0,236.7 616.7,241.7 615.0,248.3 615.0,250.0 M615.0,250.0 618.3,256.7 621.7,266.7 625.8,275.0 626.7,281.7 628.3,286.3 630.0,291.7 634.2,297.5 632.5,293.3 636.7,299.2 640.0,300.8 637.5,305.0 640.8,310.0 644.7,313.3 644.7,362.5 M616.7,231.7 694.2,231.7 M628.3,286.3 688.3,286.3 691.7,288.3 M681.8,171.7 679.3,173.3 681.0,181.7 676.8,186.7 671.0,190.0 669.3,193.3 671.0,198.3 671.0,206.7 674.3,211.7 673.3,210.0 680.0,213.3 686.7,219.2 693.3,223.3 695.3,231.7 696.7,236.7 695.0,243.3 698.3,248.3 705.0,251.7 710.0,258.3 709.2,265.0 705.0,269.2 698.3,271.7 697.5,278.3 698.3,281.7 693.3,286.7 691.7,288.3 695.8,282.5 694.2,285.0 690.8,290.0 691.3,298.3 695.0,305.0 700.0,311.7 703.3,317.5 708.3,318.3 710.8,321.7 708.3,328.3 710.0,333.3 715.0,337.5 719.2,342.5 721.7,348.3 723.3,353.3 724.2,358.3 721.7,362.5 719.2,368.3 716.7,373.3 716.7,371.3 713.3,378.3 711.7,385.0 708.3,390.8 703.3,396.7 698.3,403.3 695.8,411.7 695.0,420.0 695.8,427.5 695.8,427.5 698.3,435.0 699.2,441.7 695.0,445.0 693.3,450.0 690.0,456.7 688.3,461.7 688.3,465.8 716.7,465.8 717.5,471.7 718.3,476.7 719.2,481.7 M705.0,250.0 745.0,250.0 M710.2,174.2 710.0,176.0 713.0,179.5 720.0,182.0 728.0,184.5 735.0,185.5 740.0,187.0 743.0,189.0 745.0,193.0 744.5,197.0 746.5,199.0 748.0,202.0 747.0,205.0 744.0,209.0 M750.3,265.0 750.5,280.0 750.0,308.3 748.3,313.3 749.2,316.7 746.7,323.3 743.3,331.7 741.7,338.3 M763.3,263.8 790.5,263.8 M790.5,263.8 790.5,315.0 M790.5,264.2 810.8,265.3 M723.3,353.3 728.3,350.8 733.3,350.0 736.7,345.8 741.7,343.3 741.7,338.3 746.7,335.8 753.3,337.5 758.3,336.7 763.3,333.3 768.3,332.5 773.3,330.0 776.7,326.7 781.7,321.7 788.3,320.0 790.8,315.0 796.7,315.0 801.7,319.2 808.3,321.7 815.0,320.8 820.0,320.8 824.9,326.7 826.9,325.4 829.6,320.0 832.3,316.0 836.3,313.3 839.0,309.2 843.0,307.9 847.1,303.8 849.8,298.5 851.1,293.1 852.0,287.0 854.2,284.5 M854.2,260.0 854.2,302.6 M865.8,255.3 865.8,260.0 931.7,260.0 M932.5,260.0 937.5,266.7 939.4,272.6 935.0,278.3 934.2,285.0 936.7,290.0 940.5,295.0 935.8,297.4 931.5,299.2 928.3,301.2 M939.4,272.6 954.0,278.6 M854.2,302.6 925.9,302.6 M928.3,301.2 925.9,302.6 926.3,325.7 935.3,326.0 M870.0,302.5 870.0,311.2 874.0,309.2 878.0,306.5 882.0,305.0 885.2,305.2 888.6,306.5 892.9,309.9 895.5,312.5 898.9,313.3 902.3,315.0 905.8,316.5 904.0,321.0 903.0,326.0 906.0,330.0 911.0,333.0 915.0,335.0 917.0,345.0 921.0,352.0 924.0,356.0 M832.3,345.4 837.7,348.3 844.4,347.6 851.1,345.6 856.5,343.5 859.2,338.8 864.6,334.8 867.3,329.4 866.0,325.4 870.0,324.0 874.0,320.7 876.7,317.3 880.8,314.6 884.8,312.0 886.5,309.0 888.6,306.5 M824.9,326.7 822.9,331.3 824.2,335.3 826.9,339.3 829.6,342.7 832.3,345.4 M832.3,345.4 826.9,348.7 821.5,352.8 816.2,356.8 810.8,360.2 805.0,361.3 M724.2,362.5 741.7,362.5 741.7,359.7 800.0,361.5 926.5,362.0 M836.7,362.0 833.3,368.3 825.0,372.5 816.7,376.7 808.3,381.7 800.0,385.8 796.7,390.0 M708.3,390.8 783.3,390.0 833.0,390.0 812.5,390.0 M812.5,390.0 820.0,390.0 830.0,387.5 845.0,389.2 848.3,392.5 866.7,393.7 871.7,398.3 878.3,405.0 886.7,412.5 M812.5,390.0 814.2,395.0 818.3,400.0 823.3,408.3 830.0,416.7 836.7,423.3 836.7,425.0 841.7,430.0 844.2,436.7 846.7,443.3 848.3,446.7 M780.0,390.0 784.2,420.0 784.2,426.7 786.7,435.0 789.2,442.5 785.8,446.7 785.0,453.3 785.8,461.7 788.3,469.2 M788.3,469.7 830.0,473.7 830.0,477.5 833.3,470.0 836.7,469.2 840.0,470.8 M785.8,465.0 748.3,465.0 750.0,470.0 751.7,475.0 750.0,477.5 M742.5,390.0 736.7,449.0 737.0,450.0 737.5,476.7 M653.3,427.5 695.8,427.5 M647.5,415.0 653.3,416.3 653.3,449.0 653.0,446.7 656.7,453.3 660.0,461.7 658.3,470.0 657.5,478.3 656.7,485.0 655.0,488.3 M644.7,362.5 647.5,415.0 M644.7,362.5 715.0,362.5 713.3,366.7 710.0,368.3 707.5,371.7 716.7,371.3 M563.8,363.3 563.8,398.3 568.3,402.5 573.3,403.3 578.3,405.8 585.0,406.7 591.7,408.3 596.7,411.7 603.3,413.3 608.3,412.5 613.3,413.3 620.0,412.5 628.3,410.8 636.7,411.7 643.3,413.3 647.5,413.3 M519.2,363.3 563.8,363.3 M519.2,353.0 518.3,446.7 466.7,446.7 466.7,451.7 M960.5,203.8 960.8,215.0 960.0,228.3 962.2,240.0 961.8,245.0 960.0,251.0 958.8,258.0 958.3,265.8 957.5,273.5 955.8,277.0 M988.3,203.3 987.5,210.0 983.3,216.7 980.0,223.3 977.5,231.7 975.8,239.0 974.2,240.0 973.0,245.8 M996.7,198.3 997.0,215.0 998.0,233.3 998.7,239.0 1000.0,236.0 1003.0,240.0 M962.0,245.6 991.8,246.4 995.2,244.7 998.7,243.4 1001.5,241.5 M959.0,258.5 985.8,258.5 991.4,259.0 992.7,263.0 993.5,266.0 991.8,269.2 M985.8,258.5 985.3,271.7 M706.7,480.8 710.8,476.7 716.7,477.5 720.0,480.8 716.7,483.3 710.0,483.0 706.7,480.8"/>

<path fill="#000" stroke-width="1" d="M218.3,135.8 222.5,133.3 225.8,135.8 229.2,134.2 231.7,136.7 232.5,141.7 231.3,146.7 232.0,151.7 230.0,155.8 227.5,159.2 229.2,162.5 226.7,165.0 223.3,164.7 220.8,161.7 223.3,158.3 224.2,154.2 221.7,151.7 223.3,147.5 225.8,145.0 225.0,140.8 220.8,139.2Z M228.3,330.8 232.5,330.8 234.2,334.2 231.7,336.7 233.3,340.0 235.8,342.5 235.0,345.0 231.7,343.3 229.2,339.2 228.3,335.0Z M764.8,189.5 764.5,190.6 763.6,191.2 762.4,191.2 761.5,190.6 761.2,189.5 761.5,188.4 762.4,187.8 763.6,187.8 764.5,188.4Z M756.6,203.2 754.8,205.3 753.4,206.2 752.7,205.8 753.1,204.1 754.4,201.8 756.2,199.7 757.6,198.8 758.3,199.2 757.9,200.9Z M781.5,204.4 780.8,206.2 779.7,207.1 778.7,206.8 778.3,205.5 778.5,203.6 779.2,201.8 780.3,200.9 781.3,201.2 781.7,202.5Z M825.9,524.2 825.4,526.0 824.1,527.1 822.5,527.1 821.2,526.0 820.7,524.2 821.2,522.4 822.5,521.3 824.1,521.3 825.4,522.4Z M832.2,542.5 831.8,543.9 830.7,544.8 829.3,544.8 828.2,543.9 827.8,542.5 828.2,541.1 829.3,540.2 830.7,540.2 831.8,541.1Z M849.1,572.3 848.6,573.6 847.4,574.4 846.0,574.4 844.8,573.6 844.3,572.3 844.8,571.0 846.0,570.2 847.4,570.2 848.6,571.0Z M918.5,391.5 917.8,393.3 916.1,394.4 913.9,394.4 912.2,393.3 911.5,391.5 912.2,389.7 913.9,388.6 916.1,388.6 917.8,389.7Z M1012.7,273.0 1012.3,273.9 1011.3,274.5 1010.1,274.5 1009.1,273.9 1008.7,273.0 1009.1,272.1 1010.1,271.5 1011.3,271.5 1012.3,272.1Z M1002.2,272.3 1001.9,273.1 1001.1,273.5 1000.1,273.5 999.3,273.1 999.0,272.3 999.3,271.5 1000.1,271.1 1001.1,271.1 1001.9,271.5Z M641.5,488.5 641.2,490.0 640.5,490.9 639.5,490.9 638.8,490.0 638.5,488.5 638.8,487.0 639.5,486.1 640.5,486.1 641.2,487.0Z"/>
</g>
<clipPath id="lc"><rect x="180" y="128.6" width="900" height="470"/></clipPath>
<g clip-path="url(#lc)">
<path d="M506,448 508,447 507,444 510,444 513,445 516,447 519,448 521,446 523,447 525,446 527,444 529,445 531,446 536,445 538,446 538,448 539,449 540,452 539,456 543,456 545,458 548,459 551,461 552,458 554,456 555,454 555,450 555,448 554,444 555,443 556,441 556,437 558,437 560,437 562,435 565,436 567,436 570,435 572,434 574,433 577,435 580,435 582,436 583,438 585,437 585,434 587,433 589,431 592,430 594,429 596,428 598,427 600,425 600,423 602,420 604,419 606,418 610,416 613,417 614,416 616,415 619,416 623,415 626,415 628,416 631,414 633,413 636,413 638,415 641,415 642,415 644,415 647,414 649,413 651,411 653,413 655,415 657,415 658,416 660,417 662,417 664,416 665,417 668,419 668,420 669,422 671,423 672,421 674,419 677,418 677,416 680,413 681,411 682,409 683,406 684,406 685,404 687,401 687,398 688,398 689,395 691,394 694,392 695,394 697,396 698,398 701,401 704,400 705,400 706,401 707,404 707,407 709,409 711,411 711,412 713,415 715,416 717,419 718,420 720,422 722,420 723,420 726,418 729,417 730,417 731,418 734,418 735,418 736,421 740,422 743,422 744,422 748,422 750,421 752,420 755,419 756,419 759,417 760,416 763,416 764,418 765,421 766,422 768,426 770,425 772,425 776,427 777,427 779,428 783,430 786,429 789,431 792,429 794,431 795,429 795,427 797,425 797,421 796,420 794,418 793,417 792,414 795,413 797,412 798,410 799,408 802,408 804,406 807,405 808,404 811,403 813,401 816,399 818,397 820,398 823,398 826,400 826,402 829,404 832,404 834,405 836,405 837,405 841,403 843,403 845,401 848,401 850,400 M561,465 562,465 564,463 568,463 570,463 573,465 571,467 569,469 570,470 569,472 567,475 564,473 562,472 562,469 560,466Z M557,437 560,436 561,437 563,438 564,439 567,437 570,435 571,433 573,435 574,436 575,439 578,440 579,441 583,442 584,444 586,446 589,447 592,448 590,451 588,452 585,453 582,451 580,451 578,451 576,450 573,449 571,449 569,447 567,446 564,447 562,446 559,444 557,442 556,440 556,438Z M850,401 853,403 854,403 855,405 857,405 860,406 862,405 863,403 866,402 869,400 869,399 872,399 874,401 878,402 879,403 882,404 885,405 887,407 890,406 891,404 892,403 896,401 897,400 899,398 901,397 904,397 906,395 906,392 906,391 907,389 910,387 908,386 909,382 908,380 910,379 911,377 915,377 916,374 918,373 915,370 913,369 913,367 914,366 918,366 921,365 920,361 922,359 922,356 919,356 917,355 915,354 913,353 916,351 916,348 916,345 919,344 920,342 921,339 922,336 921,333 920,332 918,329 917,326 916,325 918,326 919,328 921,329 922,333 924,335 925,338 926,340 928,337 929,335 929,334 931,331 933,330 935,329 937,327 M827,389 829,390 831,390 832,392 832,395 831,395 829,397 827,394 825,393 826,390Z" fill="none" stroke="#ff00ff" stroke-width="2.7" stroke-linejoin="round" stroke-linecap="round"/>
<path d="M331,352 335,354 335,352 337,353 339,354 343,354 345,354 347,357 347,360 349,362 351,362 351,364 351,365 353,369 355,370 355,372 358,375 359,378 361,382 361,385 363,386 365,387 365,391 368,391 371,392 373,395 375,396 379,398 380,397 382,397 385,399 388,401 389,402 392,404 395,406 397,408 397,409 398,410 401,413 403,414 405,415 407,417 408,419 412,422 412,425 416,426 419,426 423,425 423,428 427,427 428,429 429,430 429,432 430,433 427,434 425,435 422,436 419,438 418,440 416,444 414,444 413,446 413,449 412,451 416,453 419,451 420,447 420,445 421,443 424,444 425,442 426,441 427,446 428,448 427,451 431,454 M443,436 445,435 448,435 451,438 454,439 454,442 456,443 459,445 461,446 462,445 464,445 468,445 469,444 471,444 474,443 475,442 477,442 480,442 483,440 484,440 488,441 491,443 494,443 495,445 494,448 496,451 499,450 501,450 502,448 505,447 M391,357 395,354 395,353 398,351 401,352 404,351 401,353 400,354 397,356 397,358 394,360 392,358Z" fill="none" stroke="#ff00ff" stroke-width="3.4" stroke-linejoin="round" stroke-linecap="round"/>
<path d="M472,448 472,450 474,452 478,455 478,458 480,458 481,458 482,462 485,465 488,466 488,467 491,469 493,472 495,475 495,477 495,479 496,481 498,482 503,485 506,485 508,484 506,480 505,477 503,474 502,470 499,470 500,466 497,464 499,462 499,460 496,459 495,457 496,455 497,452 495,449 497,447 M563,463 565,461 567,462 567,463 568,465 569,467 568,468 566,470 568,471 568,472 567,476 565,476 561,473 560,472 558,469 559,467 560,465 559,464Z M536,443 536,446 540,447 538,448 537,452 536,454 539,456 542,456 543,460 547,460 548,460 549,460 553,459 557,458 557,456 556,453 554,451 552,451 549,449 546,446 545,446 543,446 540,446Z" fill="none" stroke="#ff00ff" stroke-width="3.6" stroke-linejoin="round" stroke-linecap="round"/>
<path d="M232,129 234,131 234,133 234,134 235,137 238,138 240,141 242,143 243,146 242,147 241,149 239,151 237,156 238,159 235,163 237,165 235,165 234,169 233,171 232,173 232,177 234,177 236,179 237,182 237,185 237,189 236,190 237,193 234,193 233,194 232,196 232,198 232,203 233,207 232,209 232,211 229,214 229,217 229,219 M206,148 208,148 212,147 213,146 218,145 218,147 221,148 219,149 219,151 219,155 216,157 214,158 211,157 207,154 207,151 207,150Z M214,163 217,163 218,164 218,167 216,167 215,169 213,172 212,174 210,173 210,170 211,169 213,166Z M230,211 231,213 230,214 232,217 232,218 230,223 229,226 230,226 229,228 227,230 225,235 224,239 221,240 222,241 219,243 221,245 222,247 219,250 219,252 216,252 212,252 210,254 208,259 211,261 213,261 215,264 216,266 215,267 214,270 215,271 215,272 216,277 212,279 214,279 215,280 216,283 216,286 217,287 218,289 216,294 218,294 219,296 218,298 217,301 217,304 218,308 222,309 M229,261 231,263 233,265 232,268 234,268 233,272 235,274 236,278 237,279 239,281 239,284 241,287 240,287 242,291 242,292 243,294 242,295 242,298 244,301 248,302 250,304 252,306 253,308 255,309 M246,301 250,304 250,306 250,307 252,310 253,310 257,313 258,314 259,318 260,320 259,322 260,324 260,326 262,328 264,331 266,333 268,335 268,338 270,341 272,341 272,345 273,348 275,350 274,352 276,356 277,358 279,359 279,361 281,366 282,367 284,369 284,370 286,372 289,376 M298,350 298,352 300,354 303,354 307,351 308,352 311,353 315,352 316,352 319,353 322,353 323,354 326,354 330,352 331,352 332,350 336,350 339,351 343,349 344,347 348,347 349,348 352,349 354,349 356,351 361,349 364,351 365,350" fill="none" stroke="#ff00ff" stroke-width="4.0" stroke-linejoin="round" stroke-linecap="round"/>
<path d="M216.3,188.3l2.0,-2.0l2.0,2.0l-2.0,2.0zM245.5,192.5l2.0,-2.0l2.0,2.0l-2.0,2.0zM254.7,191.3l2.0,-2.0l2.0,2.0l-2.0,2.0zM219.7,305.0l2.0,-2.0l2.0,2.0l-2.0,2.0zM219.7,310.0l2.0,-2.0l2.0,2.0l-2.0,2.0zM262.2,385.8l2.0,-2.0l2.0,2.0l-2.0,2.0zM303.8,365.0l2.0,-2.0l2.0,2.0l-2.0,2.0zM306.3,370.0l2.0,-2.0l2.0,2.0l-2.0,2.0zM299.7,371.7l2.0,-2.0l2.0,2.0l-2.0,2.0zM291.3,378.3l2.0,-2.0l2.0,2.0l-2.0,2.0zM346.3,354.2l2.0,-2.0l2.0,2.0l-2.0,2.0zM351.3,360.8l2.0,-2.0l2.0,2.0l-2.0,2.0zM354.7,390.0l2.0,-2.0l2.0,2.0l-2.0,2.0zM286.3,390.0l2.0,-2.0l2.0,2.0l-2.0,2.0zM293.0,395.0l2.0,-2.0l2.0,2.0l-2.0,2.0zM252.8,370.0l3.0,-3.0l3.0,3.0l-3.0,3.0zM627.8,435.5l2.2,-2.2l2.2,2.2l-2.2,2.2zM584.0,462.0l2.2,-2.2l2.2,2.2l-2.2,2.2zM515.3,478.8l2.2,-2.2l2.2,2.2l-2.2,2.2zM732.8,426.2l2.2,-2.2l2.2,2.2l-2.2,2.2zM751.5,437.0l2.2,-2.2l2.2,2.2l-2.2,2.2zM802.8,426.2l2.2,-2.2l2.2,2.2l-2.2,2.2zM878.7,376.6l2.2,-2.2l2.2,2.2l-2.2,2.2zM891.2,385.9l2.2,-2.2l2.2,2.2l-2.2,2.2zM862.5,413.3l2.2,-2.2l2.2,2.2l-2.2,2.2zM846.6,387.1l3.2,-3.2l3.2,3.2l-3.2,3.2zM932.5,317.3l3.2,-3.2l3.2,3.2l-3.2,3.2zM932.8,317.2l3.4,-3.4l3.4,3.4l-3.4,3.4zM262.0,385.8l2.2,-2.2l2.2,2.2l-2.2,2.2zM286.1,390.8l2.2,-2.2l2.2,2.2l-2.2,2.2zM291.1,395.0l2.2,-2.2l2.2,2.2l-2.2,2.2zM294.5,396.7l2.2,-2.2l2.2,2.2l-2.2,2.2zM296.1,403.3l2.2,-2.2l2.2,2.2l-2.2,2.2zM298.6,403.3l2.2,-2.2l2.2,2.2l-2.2,2.2zM311.1,412.5l2.2,-2.2l2.2,2.2l-2.2,2.2zM313.6,416.7l2.2,-2.2l2.2,2.2l-2.2,2.2zM318.6,419.2l2.2,-2.2l2.2,2.2l-2.2,2.2zM354.5,390.0l2.2,-2.2l2.2,2.2l-2.2,2.2zM274.5,395.8l3.0,-3.0l3.0,3.0l-3.0,3.0zM307.8,405.0l3.0,-3.0l3.0,3.0l-3.0,3.0zM514.5,479.2l3.0,-3.0l3.0,3.0l-3.0,3.0zM583.8,461.7l2.0,-2.0l2.0,2.0l-2.0,2.0zM579.7,455.8l2.0,-2.0l2.0,2.0l-2.0,2.0zM486.3,465.0l2.0,-2.0l2.0,2.0l-2.0,2.0z" fill="#ff00ff" stroke="#ff00ff" stroke-width="1"/>
<path d="M500,426 503,427 505,427 509,427 510,427 513,429 515,430 518,430 520,430 523,428 525,427 526,426 529,425 532,423 533,422 536,421 537,420 539,418 543,416 546,415 548,415 548,414 547,411 547,408 547,406 547,404 548,401 547,397 550,399 554,400 554,401 557,400 560,402 562,403 565,403 567,404 571,403 572,402 575,399 578,398 579,395 580,395 583,392 586,392 587,392 590,391 592,390 595,389 598,389 601,387 600,384 599,382 598,379 600,379 602,378 605,378 606,377 609,377 611,377 615,375 617,376 619,372 619,369 620,367 621,364 624,365 625,367 628,368 631,370 634,370 636,371 638,371 641,372 642,372 645,373 647,373 649,373 652,373 656,374 659,376 661,376 664,376 668,378 670,378 672,379 673,381 676,383 679,380 680,379 681,378 684,376 685,375 687,373 688,372 691,372 693,370 696,368 699,368 700,365 701,365 703,363 704,362 706,362 708,361 711,360 714,361 717,360 719,359 722,357 726,357 727,359 728,363 730,364 730,367 731,369 734,371 736,372 737,373 738,376 740,377 741,379 742,382 743,386 746,389 748,390 749,391 750,391 753,389 754,389 756,388 759,389 763,390 766,391 768,389 770,388 772,388 775,386 777,384 779,383 781,381 782,379 784,380 787,382 790,385 792,386 794,386 797,388 797,390 798,393 797,396 797,397 800,397 802,396 805,395 808,395 810,393 812,391 815,391 818,390 820,389 821,388 824,387 826,386 828,383 830,382 832,380 834,379 836,376 838,374 838,373 840,370 841,369 845,369 847,371 848,373 850,372 M737,368 738,369 742,371 740,372 740,376 738,372 738,370Z M759,366 761,369 762,369 760,372 759,370 758,369Z M776,395 780,396 780,398 779,399 779,402 777,402 776,399Z M795,371 797,371 800,371 803,373 805,373 805,375 805,379 803,380 800,381 799,380 797,378 796,375Z M849,370 850,372 850,373 851,377 854,376 855,374 855,371 856,370 859,369 861,367 862,366 863,365 867,367 868,367 872,367 874,364 876,363 878,360 880,359 881,358 883,357 885,355 886,353 890,351 891,350 894,350 896,352 897,355 897,357 899,360 901,357 903,357 905,356 905,353 904,350 903,348 902,346 901,342 903,343 907,344 910,344 911,342 912,341 915,338 914,337 911,335 910,333 908,332 907,331 905,329 904,326 903,325 905,323 906,320 M863,345 866,346 868,344 871,347 872,350 870,351 869,353 866,355 864,355 863,353 862,351 861,348Z M796,371 799,372 801,369 803,372 807,372 806,374 806,378 803,379 799,381 798,378 796,378 795,376Z" fill="none" stroke="#0000cd" stroke-width="2.7" stroke-linejoin="round" stroke-linecap="round"/>
<path d="M952,285 951,289 951,291 953,294 951,296 952,297 949,301 947,302 945,304 945,305 943,308 942,310 940,310 940,311 938,309 937,308 935,310 932,310 928,308 929,305 930,301 934,299 938,298 935,298 933,297 930,299 928,301 928,303 927,305 928,309 929,311 929,313 929,314 932,315 931,319 933,320 934,322 935,323 935,325 932,329 929,328 926,329 925,325 925,322 924,321 921,318 923,317 921,316 921,312 922,309 919,307 917,307 914,309 914,313 914,317 914,318 911,320 910,319 907,318 905,320 904,321 904,322 907,322 909,324 909,326 905,326 903,324 902,326 903,331 907,334 908,334" fill="none" stroke="#0000cd" stroke-width="3.2" stroke-linejoin="round" stroke-linecap="round"/>
<path d="M358,377 358,380 361,381 361,383 365,387 367,387 368,390 369,391 372,391 375,391 379,393 380,393 382,394 382,393 383,394 387,395 389,395 390,397 391,400 394,401 397,403 400,404 401,406 404,405 407,406 406,410 410,411 409,411 412,414 415,418 417,421 418,422 420,421 423,423 424,424 427,422 428,423 430,425 432,427 434,428 435,430 437,431 440,433 443,434 444,433 446,431 445,430 448,427 449,425 450,424 452,421 454,418 455,417 457,417 457,414 460,412 461,410 462,407 460,404 460,403 463,404 463,406 464,410 464,411 464,413 466,417 467,417 469,414 470,416 474,419 474,421 476,424 477,424 478,426 477,429 480,432 481,433 483,434 484,435 485,434 487,434 488,430 489,429 491,425 492,423 492,420 495,419 496,420 498,418 501,422 504,425 506,422 506,420 508,422 511,426 512,426 513,427 515,428 518,427 520,428 522,428 523,428 526,427 530,426 531,424 532,422 537,422 538,419 540,417 M329,344 331,344 334,343 336,343 337,343 342,345 344,346 346,346 349,347 350,349 351,349 354,350 356,352 360,352 361,350 364,349 367,349 369,351 370,352 369,355 367,355 365,359 364,360 362,360 363,364 363,365 362,367 361,370 359,373 357,374 358,377 M373,365 376,365 376,362 378,361 380,363 380,364 381,366 382,369 386,368 388,371 391,372 393,373 392,376 395,376 397,378 397,380 396,381 396,383 392,381 389,378 388,376 388,374 387,373 385,372 383,370 378,367 376,366Z M384,360 386,357 389,355 391,352 394,352 396,350 398,350 401,348 405,347 406,348 408,347 411,346 413,343 416,343 419,341 420,343 421,346 418,349 417,348 416,351 412,353 408,354 407,355 406,355 404,354 402,355 400,359 397,361 395,363 391,363 390,364 389,364 387,362Z M464,386 468,383 468,387 469,389 467,393 467,395 465,391 465,390 466,389Z" fill="none" stroke="#0000cd" stroke-width="3.4" stroke-linejoin="round" stroke-linecap="round"/>
<path d="M950,290 948,289 949,286 952,284 951,283 954,280 954,279 957,279 959,281 961,283 964,285 967,280 966,278 968,278 972,277 976,275 978,274 980,275 984,273 M968,277 970,274 974,274 979,273 982,274 981,274 979,275 975,276 972,278Z M971,283 976,279 979,279 982,279 977,280 976,283Z M992,270 994,271 995,270 999,268 1002,269 1005,270 1003,272 1001,270 999,268 996,269 993,271Z M1007,265 1009,264 1011,265 1010,268 1008,266Z" fill="none" stroke="#0000cd" stroke-width="3.8" stroke-linejoin="round" stroke-linecap="round"/>
<path d="M237,135 241,135 243,134 245,135 246,137 246,139 246,140 246,141 242,141 239,144 237,142 237,139 237,136Z M208,150 212,147 215,146 218,148 221,148 221,151 219,155 219,156 215,157 213,158 211,156 211,153 209,151Z M239,170 237,171 235,173 236,176 233,178 234,180 235,182 237,183 239,185 242,185 242,189 245,187 247,185 248,183 252,185 253,186 256,185 257,184 260,184 262,183 263,183 266,180 269,177 269,175 267,172 268,172 268,171 268,168 267,166 265,164 267,161 268,162 270,164 269,167 271,167 275,169 278,172 279,173 283,174 283,175 287,173 290,172 292,170 296,170 296,169 297,171 300,170 304,171 304,173 308,174 308,177 308,178 309,176 312,176 313,174 315,173 320,174 321,175 323,176 324,178 324,183 324,184 320,188 320,189 322,192 321,194 321,196 319,192 317,191 316,188 314,186 313,184 313,182 310,181 309,178 308,178 303,176 300,179 299,178 297,180 294,183 291,184 291,187 289,190 288,192 289,195 287,197 283,197 281,198 279,196 278,196 274,198 271,200 267,200 266,200 261,201 263,202 263,205 263,209 262,211 260,210 258,207 259,207 256,203 257,200 253,198 253,196 253,199 253,203 251,204 249,205 246,204 246,201 244,201 240,199 241,197 241,195 240,198 239,199 239,202 238,204 237,208 236,209 236,210 237,213 236,217 234,219 M235,210 235,211 235,214 236,216 233,217 232,220 231,223 230,225 229,228 228,229 228,232 228,234 227,237 226,238 228,240 227,243 228,245 228,248 230,252 230,255 230,258 228,258 229,260 231,264 231,267 234,269 235,271 237,274 240,275 241,278 242,275 243,274 245,276 247,276 246,280 246,284 242,285 241,286 239,288 239,290 240,290 244,292 246,293 248,294 249,293 251,295 254,296 254,298 255,301 256,303 255,305 256,309 M217,267 219,266 221,264 224,266 228,265 230,268 232,271 229,271 230,273 229,274 226,276 222,277 220,278 219,277 218,275 218,274 216,270Z M223,271 223,270 225,268 226,271 227,274 224,277 223,278 222,274Z M251,301 252,303 254,307 255,308 257,310 258,313 258,316 260,319 261,319 263,323 265,325 264,326 265,327 266,330 269,331 269,335 269,337 271,339 273,341 274,343 276,347 277,348 277,352 277,354 281,355 284,356 284,359 285,362 286,366 286,370 287,372 291,373 291,371 292,368 293,367 293,363 293,360 293,359 293,356 291,353 289,350 289,348 285,346 286,345 285,343 290,343 292,346 294,350 294,352 296,354 295,351 296,348 296,346 299,344 301,346 303,347 306,347 309,346 312,349 314,351 315,350 319,352 320,351 322,351 325,350 330,350 331,350 334,346 335,345 338,345 337,342 340,338 339,339 340,340 344,339 346,343 347,343 351,343 352,344 355,344 359,345 362,347 365,346 365,348 M327,365 330,363 333,366 333,370 329,369 327,368Z M275,393 278,390 281,393 281,397 281,399 277,398Z" fill="none" stroke="#0000cd" stroke-width="4.0" stroke-linejoin="round" stroke-linecap="round"/>
<path d="M287.1,150.0l2.6,-2.6l2.6,2.6l-2.6,2.6zM254.9,172.5l1.8,-1.8l1.8,1.8l-1.8,1.8zM252.4,179.2l1.8,-1.8l1.8,1.8l-1.8,1.8zM259.9,178.3l1.8,-1.8l1.8,1.8l-1.8,1.8zM282.4,181.7l1.8,-1.8l1.8,1.8l-1.8,1.8zM281.5,192.5l1.8,-1.8l1.8,1.8l-1.8,1.8zM241.5,210.8l1.8,-1.8l1.8,1.8l-1.8,1.8zM306.5,215.8l1.8,-1.8l1.8,1.8l-1.8,1.8zM312.4,202.5l1.8,-1.8l1.8,1.8l-1.8,1.8zM314.9,197.5l1.8,-1.8l1.8,1.8l-1.8,1.8zM214.9,257.5l1.8,-1.8l1.8,1.8l-1.8,1.8zM220.7,259.2l1.8,-1.8l1.8,1.8l-1.8,1.8zM242.4,210.8l1.8,-1.8l1.8,1.8l-1.8,1.8zM259.9,210.8l1.8,-1.8l1.8,1.8l-1.8,1.8zM306.5,215.8l1.8,-1.8l1.8,1.8l-1.8,1.8zM312.4,220.0l1.8,-1.8l1.8,1.8l-1.8,1.8zM319.0,226.3l1.8,-1.8l1.8,1.8l-1.8,1.8zM272.8,297.5l3.0,-3.0l3.0,3.0l-3.0,3.0zM273.7,300.8l3.0,-3.0l3.0,3.0l-3.0,3.0zM272.0,306.7l3.0,-3.0l3.0,3.0l-3.0,3.0zM284.9,320.8l1.8,-1.8l1.8,1.8l-1.8,1.8zM287.4,325.0l1.8,-1.8l1.8,1.8l-1.8,1.8zM290.7,328.3l1.8,-1.8l1.8,1.8l-1.8,1.8zM293.2,332.5l1.8,-1.8l1.8,1.8l-1.8,1.8zM295.7,335.8l1.8,-1.8l1.8,1.8l-1.8,1.8zM299.9,337.5l1.8,-1.8l1.8,1.8l-1.8,1.8zM304.0,343.3l1.8,-1.8l1.8,1.8l-1.8,1.8zM288.2,381.7l1.8,-1.8l1.8,1.8l-1.8,1.8zM273.2,306.7l2.6,-2.6l2.6,2.6l-2.6,2.6zM275.7,300.8l2.6,-2.6l2.6,2.6l-2.6,2.6zM607.0,398.8l1.8,-1.8l1.8,1.8l-1.8,1.8zM637.7,401.2l1.8,-1.8l1.8,1.8l-1.8,1.8zM563.2,408.8l1.8,-1.8l1.8,1.8l-1.8,1.8zM630.7,366.2l1.8,-1.8l1.8,1.8l-1.8,1.8zM751.2,372.0l1.8,-1.8l1.8,1.8l-1.8,1.8zM770.7,388.8l1.8,-1.8l1.8,1.8l-1.8,1.8zM882.9,334.3l2.2,-2.2l2.2,2.2l-2.2,2.2zM808.9,370.9l2.2,-2.2l2.2,2.2l-2.2,2.2zM986.4,275.4l2.0,-2.0l2.0,2.0l-2.0,2.0zM996.7,273.0l2.0,-2.0l2.0,2.0l-2.0,2.0zM1000.1,265.8l2.0,-2.0l2.0,2.0l-2.0,2.0zM276.3,395.8l2.0,-2.0l2.0,2.0l-2.0,2.0zM309.3,405.5l2.0,-2.0l2.0,2.0l-2.0,2.0zM288.0,381.7l2.0,-2.0l2.0,2.0l-2.0,2.0zM392.2,378.3l2.0,-2.0l2.0,2.0l-2.0,2.0zM477.6,444.2l2.4,-2.4l2.4,2.4l-2.4,2.4zM482.9,448.3l2.4,-2.4l2.4,2.4l-2.4,2.4zM503.4,479.5l2.4,-2.4l2.4,2.4l-2.4,2.4z" fill="#0000cd" stroke="#0000cd" stroke-width="1"/>
</g>
</svg>
<div class="t" id="title">Tomato leafminer: Cold stress units 12/20/2025</div>
<div class="t sub" style="top:57px">Maps and modeling 12/20/2025 by Oregon State University IPPC USPEST.ORG and</div>
<div class="t sub" style="top:78.5px">USDA-APHIS-PPQ; climate data from OSU PRISM Climate Group</div>
<div class="t lt" style="top:214.4px">Stress Limits</div>
<div class="key" style="top:243.5px;background:#ff00ff"></div>
<div class="key" style="top:260.8px;background:#0000ff"></div>
<div class="t ll" style="top:236.8px;letter-spacing:.1px">Stress limit 1</div>
<div class="t ll" style="top:254px;letter-spacing:.1px">Stress limit 2</div>
<div class="t lt" style="top:284.8px">Cold Stress</div>
<div class="t lt" style="top:303.8px">Units</div>
<div class="sw" style="top:325px;background:#5E4FA2"></div>
<div class="t ll" style="top:326.7px">0-388</div>
<div class="sw" style="top:342px;background:#3288BD"></div>
<div class="t ll" style="top:343.7px">388-776</div>
<div class="sw" style="top:359px;background:#66C2A5"></div>
<div class="t ll" style="top:360.7px">776-1160</div>
<div class="sw" style="top:376px;background:#ABDDA4"></div>
<div class="t ll" style="top:377.7px">1160-1550</div>
<div class="sw" style="top:393px;background:#E6F598"></div>
<div class="t ll" style="top:394.7px">1550-1940</div>
<div class="sw" style="top:410px;background:#FEE08B"></div>
<div class="t ll" style="top:411.7px">1940-2330</div>
<div class="sw" style="top:427px;background:#FDAE61"></div>
<div class="t ll" style="top:428.7px">2330-2720</div>
<div class="sw" style="top:444px;background:#F46D43"></div>
<div class="t ll" style="top:445.7px">2720-3100</div>
<div class="sw" style="top:461px;background:#D53E4F"></div>
<div class="t ll" style="top:462.7px">3100-3490</div>
<div class="sw" style="top:478px;background:#9E0142"></div>
<div class="t ll" style="top:479.7px">3490-3880</div>
</body></html>
